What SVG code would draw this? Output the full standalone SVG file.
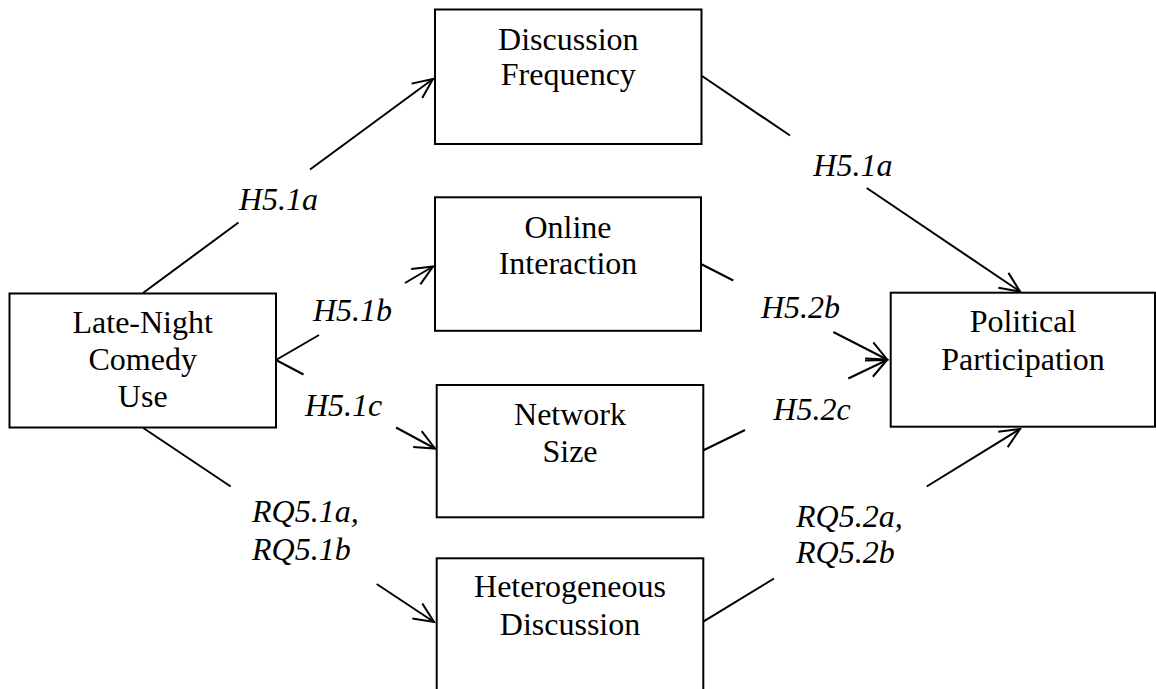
<svg xmlns="http://www.w3.org/2000/svg" width="1156" height="689" viewBox="0 0 1156 689">
  <style>
    .box { fill: #ffffff; stroke: #000000; stroke-width: 2; }
    .node-text { font-size: 32px; fill: #000000; text-anchor: middle; }
    .path-label { font-size: 32px; font-style: italic; fill: #000000; }
    .link { fill: none; stroke: #000000; stroke-width: 2; marker-end: url(#open-arrow); }
  </style>
  <defs>
    <marker id="open-arrow" markerUnits="userSpaceOnUse" viewBox="-23 -12 26 24" refX="0" refY="0" markerWidth="26" markerHeight="24" orient="auto" overflow="visible">
      <path d="M-20,-9 L0,0 L-20,9" fill="none" stroke="#000000" stroke-width="2" stroke-linejoin="miter"/>
    </marker>
  </defs>

  <rect width="1156" height="689" fill="#ffffff"/>

  <!-- paths between constructs; each line is broken where its label sits -->
  <g id="connectors">
    <path class="link" d="M143,293 L238.5,222.5 M310,169.5 L433,79"/>
    <path class="link" d="M276,360 L319,335 M405,283 L433,266.5"/>
    <path class="link" d="M276,360 L303.5,374.5 M396,427.5 L435,448.5"/>
    <path class="link" d="M143.3,428 L230.7,486.5 M376.7,584 L434,622"/>
    <path class="link" d="M702,76 L790,135.5 M866.7,188 L1020,291.5"/>
    <path class="link" d="M701,264 L733.3,280.5 M833.3,332 L887,359.5"/>
    <path class="link" d="M703,450.5 L745,430 M848.3,378.5 L887,360"/>
    <path class="link" d="M703.3,621.7 L774,578.5 M926.7,486.5 L1020,429"/>
  </g>

  <g font-family="Liberation Serif, Times New Roman, serif">
    <g id="labels">
      <text class="path-label" x="239" y="210">H5.1a</text>
      <text class="path-label" x="313" y="320.7">H5.1b</text>
      <text class="path-label" x="305" y="416">H5.1c</text>
      <text class="path-label" x="252" y="521.7">RQ5.1a,</text>
      <text class="path-label" x="252" y="560">RQ5.1b</text>
      <text class="path-label" x="813.3" y="176">H5.1a</text>
      <text class="path-label" x="761" y="318.3">H5.2b</text>
      <text class="path-label" x="773.3" y="420">H5.2c</text>
      <text class="path-label" x="796" y="526.7">RQ5.2a,</text>
      <text class="path-label" x="796" y="563.3">RQ5.2b</text>
    </g>

    <g id="late-night-comedy-use">
      <rect class="box" x="9.5" y="293.5" width="266.5" height="134"/>
      <text class="node-text" x="142.7" y="333.3">Late-Night</text>
      <text class="node-text" x="142.7" y="370">Comedy</text>
      <text class="node-text" x="142.7" y="406.7">Use</text>
    </g>

    <g id="discussion-frequency">
      <rect class="box" x="435" y="9.5" width="266.5" height="134.5"/>
      <text class="node-text" x="568.3" y="49.5">Discussion</text>
      <text class="node-text" x="568.3" y="85">Frequency</text>
    </g>

    <g id="online-interaction">
      <rect class="box" x="435" y="197.3" width="266" height="133.5"/>
      <text class="node-text" x="568" y="237.5">Online</text>
      <text class="node-text" x="568" y="274">Interaction</text>
    </g>

    <g id="network-size">
      <rect class="box" x="436.7" y="385" width="266.6" height="132.3"/>
      <text class="node-text" x="570" y="425">Network</text>
      <text class="node-text" x="570" y="461.7">Size</text>
    </g>

    <g id="heterogeneous-discussion">
      <rect class="box" x="436.7" y="558.3" width="266.6" height="134"/>
      <text class="node-text" x="570" y="596.7">Heterogeneous</text>
      <text class="node-text" x="570" y="635">Discussion</text>
    </g>

    <g id="political-participation">
      <rect class="box" x="890.7" y="292.7" width="264.3" height="134"/>
      <text class="node-text" x="1023" y="331.7">Political</text>
      <text class="node-text" x="1023" y="370">Participation</text>
    </g>
  </g>
</svg>
